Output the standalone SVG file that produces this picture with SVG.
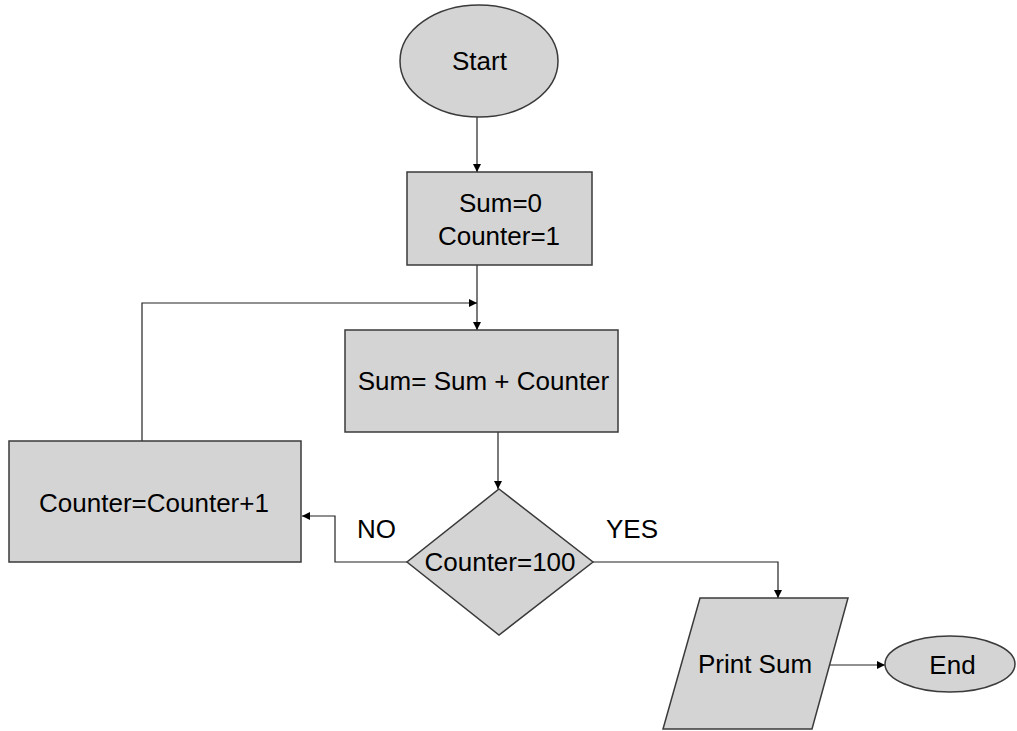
<svg xmlns="http://www.w3.org/2000/svg" width="1017" height="731" viewBox="0 0 1017 731">
<defs>
<marker id="arr" viewBox="0 0 10 10" refX="10" refY="5" markerWidth="8" markerHeight="8" markerUnits="userSpaceOnUse" orient="auto">
<path d="M0,0 L10,5 L0,10 z" fill="#000"/>
</marker>
<style>
.shape{fill:#d4d4d4;stroke:#3a3a3a;stroke-width:1.5}
.conn{fill:none;stroke:#222;stroke-width:1.2;marker-end:url(#arr)}
text{font-family:"Liberation Sans",Arial,sans-serif;font-size:26px;fill:#000}
.c{text-anchor:middle}
</style>
</defs>
<rect width="1017" height="731" fill="#fff"/>
<g id="connectors">
<path class="conn" d="M477,117 V172"/>
<path class="conn" d="M477,265 V330"/>
<path class="conn" d="M142,441 V303 H477"/>
<path class="conn" d="M498,432 V489"/>
<path class="conn" d="M407,562 H335 V516 H302"/>
<path class="conn" d="M593,562 H778 V598"/>
<path class="conn" d="M830,665 H885"/>
</g>
<g id="start">
<ellipse class="shape" cx="479" cy="61" rx="79" ry="56"/>
<text class="c" x="479.5" y="70">Start</text>
</g>
<g id="init">
<rect class="shape" x="407" y="172" width="185" height="93"/>
<text class="c" x="500.5" y="212">Sum=0</text>
<text class="c" x="499" y="245">Counter=1</text>
</g>
<g id="sum">
<rect class="shape" x="345" y="330" width="273" height="102"/>
<text class="c" x="483.5" y="390">Sum= Sum + Counter</text>
</g>
<g id="inc">
<rect class="shape" x="9" y="441" width="292" height="121"/>
<text class="c" x="154" y="512">Counter=Counter+1</text>
</g>
<g id="decision">
<polygon class="shape" points="499,489 593,562 499,635 407,562"/>
<text class="c" x="500" y="571">Counter=100</text>
</g>
<g id="labels">
<text x="357" y="538">NO</text>
<text x="606" y="538">YES</text>
</g>
<g id="print">
<polygon class="shape" points="700,598 848,598 812,729 663,729"/>
<text class="c" x="755" y="673">Print Sum</text>
</g>
<g id="end">
<ellipse class="shape" cx="950" cy="664" rx="65" ry="28"/>
<text class="c" x="952.5" y="674">End</text>
</g>
</svg>
